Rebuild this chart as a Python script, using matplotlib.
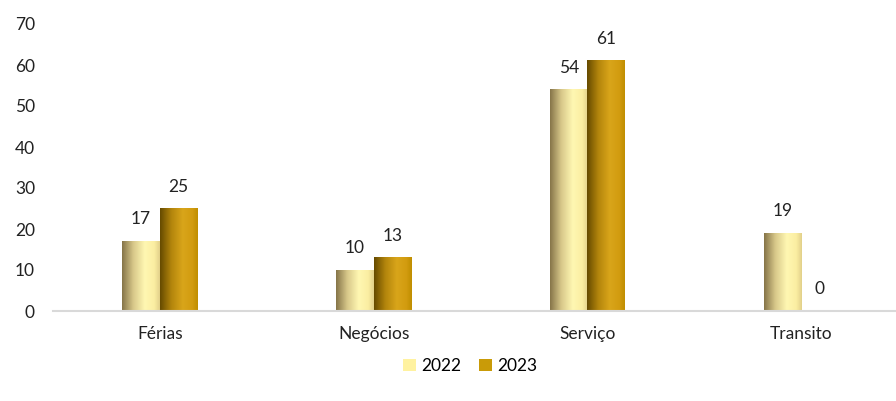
import numpy as np
import matplotlib
matplotlib.use("Agg")
import matplotlib.pyplot as plt
from matplotlib.colors import LinearSegmentedColormap
from matplotlib.patches import Patch

categories = ["Férias", "Negócios", "Serviço", "Transito"]
years = ["2022", "2023"]
values_2022 = [17, 10, 54, 19]
values_2023 = [25, 13, 61, 0]

plt.rcParams['font.family'] = ['Lato', 'DejaVu Sans']

# horizontal shading for the cylinder-like bars
cmap_2022 = LinearSegmentedColormap.from_list(
    "g22", [(0, "#857448"), (0.3, "#d8c88a"), (0.6, "#fff7b2"), (0.85, "#fbeea2"), (1, "#e2d08a")])
cmap_2023 = LinearSegmentedColormap.from_list(
    "g23", [(0, "#654a00"), (0.3, "#b3850c"), (0.6, "#d9a51a"), (0.85, "#d29c10"), (1, "#c08e00")])
legend_colors = ["#fff2a0", "#c99b08"]

fig = plt.figure(figsize=(8.96, 4.01), dpi=100)
ax = fig.add_axes([53 / 896, 90 / 401, 855 / 896, 287 / 401])

x = np.arange(len(categories))
w = 0.175
grad = np.linspace(0, 1, 256).reshape(1, -1)
fs = 12.5

for vals, offset, cmap in [(values_2022, -w / 2, cmap_2022), (values_2023, w / 2, cmap_2023)]:
    bars = ax.bar(x + offset, vals, w, facecolor="none", edgecolor="none")
    for b, v in zip(bars, vals):
        x0, h = b.get_x(), b.get_height()
        if h > 0:
            ax.imshow(grad, cmap=cmap, aspect="auto", zorder=2,
                      extent=[x0, x0 + b.get_width(), 0, h])
        ax.annotate(str(v), (x0 + b.get_width() / 2, h), xytext=(0, 10),
                    textcoords="offset points", ha="center", va="bottom",
                    fontsize=fs, color="#222222")

ax.set_xlim(-0.5, len(categories) - 0.5)
ax.set_ylim(0, 70)
ax.set_yticks(range(0, 71, 10))
ax.set_xticks(x)
ax.set_xticklabels(categories)
ax.tick_params(axis="both", length=0, labelsize=fs, colors="#222222")
ax.tick_params(axis="y", pad=13)
ax.tick_params(axis="x", pad=11)
for s in ["top", "right", "left"]:
    ax.spines[s].set_visible(False)
ax.spines["bottom"].set_color("#d9d9d9")
ax.spines["bottom"].set_linewidth(1.5)

handles = [Patch(facecolor=c, edgecolor="none") for c in legend_colors]
fig.legend(handles, years, loc="center", bbox_to_anchor=(0.525, 0.087), ncol=2,
           frameon=False, fontsize=fs, handlelength=0.75, handleheight=0.75,
           handletextpad=0.3, columnspacing=1.0)

fig.savefig("out.png", dpi=100)
